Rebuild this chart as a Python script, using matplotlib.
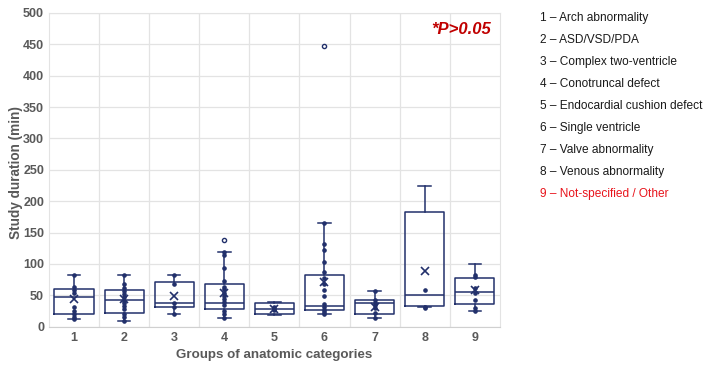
import matplotlib
matplotlib.use("Agg")
import matplotlib.pyplot as plt

plt.rcParams["font.family"] = ["Liberation Sans", "DejaVu Sans"]

# groups and box statistics (minutes)
groups = ["1", "2", "3", "4", "5", "6", "7", "8", "9"]
whisker_low = [12, 9, 21, 14, 19, 20, 14, 31, 25]
q1 = [21, 22, 32, 28, 20, 27, 21, 33, 36]
medians = [48, 43, 37, 37, 29, 33.5, 38.5, 50, 56]
q3 = [60.5, 59, 70.5, 68, 38, 83, 42, 183, 78]
whisker_high = [83, 83, 82, 119, 40, 165, 57, 225, 100]
means = [44, 44.5, 49, 53, 28, 72, 32, 88, 59]
outliers = [[], [], [], [138], [], [447], [], [], []]

# inner points per group
p1 = [83, 63, 58, 53, 32, 25, 20, 16, 12]
p2 = [83, 68, 62, 57, 52, 48, 41, 37, 33, 29, 21, 16, 9]
p3 = [82, 68, 38, 32, 21]
p4 = [119, 115, 94, 73, 64, 60, 54, 49, 44, 40, 35, 25, 21, 14]
p5 = [31, 29, 27]
p6 = [165, 132, 122, 103, 87, 78, 68, 58, 49, 36, 31, 27, 23, 20]
p7 = [57, 42, 38, 35, 30, 22, 14]
p8 = [58, 32, 30]
p9 = [82, 79, 61, 53, 43, 30, 25]
inner_points = [p1, p2, p3, p4, p5, p6, p7, p8, p9]

legend_labels = ["1 \u2013 Arch abnormality", "2 \u2013 ASD/VSD/PDA",
                 "3 \u2013 Complex two-ventricle", "4 \u2013 Conotruncal defect",
                 "5 \u2013 Endocardial cushion defect", "6 \u2013 Single ventricle",
                 "7 \u2013 Valve abnormality", "8 \u2013 Venous abnormality",
                 "9 \u2013 Not-specified / Other"]

NAVY = "#22306b"
GRID = "#e3e3e3"
GRAY = "#595959"

fig = plt.figure(figsize=(7.09, 3.70), dpi=100)
ax = fig.add_axes([0.069, 0.117, 0.636, 0.848])

stats = []
for i in range(len(groups)):
    stats.append(dict(whislo=whisker_low[i], q1=q1[i], med=medians[i], q3=q3[i],
                      whishi=whisker_high[i], mean=means[i], fliers=outliers[i]))

pos = list(range(1, len(groups) + 1))
ax.bxp(stats, positions=pos, widths=0.78, showmeans=True, showfliers=True,
       boxprops=dict(color=NAVY, lw=1.1),
       medianprops=dict(color=NAVY, lw=1.1),
       whiskerprops=dict(color=NAVY, lw=1.1),
       capprops=dict(color=NAVY, lw=1.1),
       capwidths=0.25,
       meanprops=dict(marker="x", markeredgecolor=NAVY, markersize=5.5, markeredgewidth=1.2),
       flierprops=dict(marker="o", markerfacecolor="white", markeredgecolor=NAVY,
                       markersize=3.0, markeredgewidth=1.0),
       zorder=3)

for x, pts in zip(pos, inner_points):
    ax.plot([x] * len(pts), pts, "o", color=NAVY, markersize=2.3, zorder=4)

ax.set_xlim(0.5, len(groups) + 0.5)
ax.set_ylim(0, 500)
ax.set_yticks(range(0, 501, 50))
ax.set_xticks(pos)
ax.set_xticklabels(groups)
ax.set_xticks([p + 0.5 for p in pos[:-1]], minor=True)
ax.grid(axis="y", color=GRID, lw=0.9, zorder=0)
ax.grid(axis="x", which="minor", color=GRID, lw=0.9, zorder=0)
ax.tick_params(which="both", length=0)
ax.tick_params(axis="both", labelcolor=GRAY, labelsize=9)
for lab in ax.get_xticklabels() + ax.get_yticklabels():
    lab.set_fontweight("bold")
for s in ax.spines.values():
    s.set_color(GRID)
ax.spines["bottom"].set_color("#d0d0d0")

ax.set_ylabel("Study duration (min)", fontsize=9.8, fontweight="bold", color=GRAY, va="center")
ax.set_xlabel("Groups of anatomic categories", fontsize=9.6, fontweight="bold", color=GRAY, va="center")
ax.yaxis.set_label_coords(-0.073, 0.49)
ax.xaxis.set_label_coords(0.5, -0.09)

ax.text(0.98, 0.97, "*P>0.05", transform=ax.transAxes, ha="right", va="top",
        fontsize=12, fontweight="bold", fontstyle="italic", color="#c00000")

y0 = 1 - 18 / 370
step = 22.0 / 370
for k, lab in enumerate(legend_labels):
    col = "#e8141c" if k == len(legend_labels) - 1 else "#1a1a1a"
    fig.text(540 / 709, y0 - k * step, lab, fontsize=8.6, color=col, va="center")

fig.savefig("out.png", dpi=100)
